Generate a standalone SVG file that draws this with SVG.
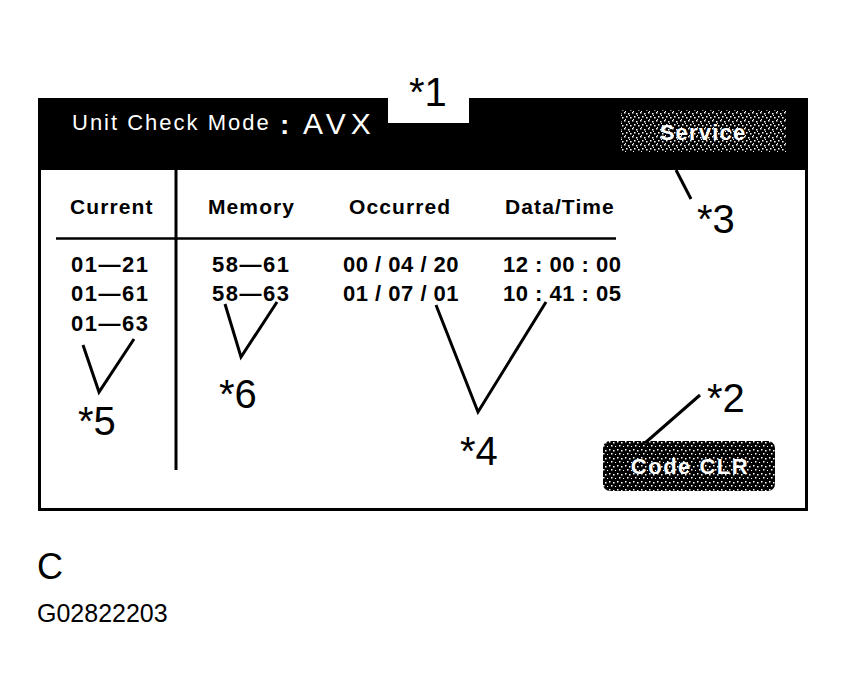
<svg xmlns="http://www.w3.org/2000/svg" width="846" height="698" viewBox="0 0 846 698">
<style>
.hd{font-family:"Liberation Sans",Arial,sans-serif;font-weight:bold;font-size:21px;letter-spacing:1.1px;fill:#000}
.dt{font-family:"Liberation Sans",Arial,sans-serif;font-weight:bold;font-size:22px;letter-spacing:0.5px;fill:#000}
.ds{font-family:"Liberation Sans",Arial,sans-serif;font-weight:bold;font-size:22px;letter-spacing:1.5px;fill:#000}
.call{font-family:"Liberation Sans",Arial,sans-serif;font-size:40px;fill:#000}
.ld{stroke:#000;stroke-width:3;fill:none}
.btn{font-family:"Liberation Sans",Arial,sans-serif;font-weight:bold;font-size:22px;fill:#fff}
</style>
<defs>
<pattern id="dotsL" width="8" height="8" patternUnits="userSpaceOnUse">
<rect width="8" height="8" fill="#000"/>
<rect x="0" y="0" width="1.5" height="1.5" fill="#fff"/>
<rect x="4" y="1" width="1.5" height="1.5" fill="#fff"/>
<rect x="2" y="4" width="1.5" height="1.5" fill="#fff"/>
<rect x="6" y="5" width="1.5" height="1.5" fill="#fff"/>
<rect x="5" y="3" width="1" height="1" fill="#fff"/>
<rect x="1" y="7" width="1" height="1" fill="#fff"/>
</pattern>
<pattern id="dotsD" width="8" height="8" patternUnits="userSpaceOnUse">
<rect width="8" height="8" fill="#000"/>
<rect x="1" y="1" width="1.5" height="1.5" fill="#fff"/>
<rect x="5" y="2" width="1.5" height="1.5" fill="#fff"/>
<rect x="3" y="5" width="1.5" height="1.5" fill="#fff"/>
<rect x="7" y="6" width="1" height="1" fill="#fff"/>
</pattern>
</defs>
<rect width="846" height="698" fill="#fff"/>
<g id="screen">
<rect x="39.5" y="99.5" width="767" height="410" fill="#fff" stroke="#000" stroke-width="3"/>
<rect x="38" y="98" width="770" height="72" fill="#000"/>
<rect x="388" y="98" width="81" height="25" fill="#fff"/>
<text x="72" y="130" font-family="'Liberation Sans',Arial,sans-serif" font-size="22" letter-spacing="2" fill="#fff">Unit Check Mode</text>
<text x="280" y="134" font-family="'Liberation Sans',Arial,sans-serif" font-size="28" font-weight="bold" fill="#fff">:</text>
<text x="303" y="134" font-family="'Liberation Sans',Arial,sans-serif" font-size="30" letter-spacing="5" fill="#fff">AVX</text>
<line x1="176" y1="170" x2="176" y2="470" stroke="#000" stroke-width="3"/>
<line x1="56" y1="238.5" x2="616" y2="238.5" stroke="#000" stroke-width="2.5"/>
</g>
<g id="service">
<rect x="621" y="110" width="165" height="42" fill="url(#dotsL)"/>
<text class="btn" x="703" y="140" text-anchor="middle" letter-spacing="1.2">Service</text>
</g>
<g id="codeclr">
<rect x="603" y="441" width="172" height="50" rx="7" fill="url(#dotsD)"/>
<text class="btn" x="690" y="474" text-anchor="middle" letter-spacing="1.5">Code CLR</text>
</g>
<g id="headers">
<text class="hd" x="70" y="214">Current</text>
<text class="hd" x="208" y="214">Memory</text>
<text class="hd" x="349" y="214">Occurred</text>
<text class="hd" x="505" y="214">Data/Time</text>
</g>
<g id="current">
<text class="ds" x="71" y="272">01—21</text>
<text class="ds" x="71" y="301">01—61</text>
<text class="ds" x="71" y="331">01—63</text>
</g>
<g id="memory">
<text class="ds" x="212" y="272">58—61</text>
<text class="ds" x="212" y="301">58—63</text>
</g>
<g id="occurred">
<text class="dt" x="343" y="272">00 / 04 / 20</text>
<text class="dt" x="343" y="301">01 / 07 / 01</text>
</g>
<g id="datatime">
<text class="dt" x="503" y="272">12 : 00 : 00</text>
<text class="dt" x="503" y="301">10 : 41 : 05</text>
</g>
<g id="connectors">
<polyline class="ld" points="83,345 99,392 134,339"/>
<polyline class="ld" points="225,304 241,357 277,302"/>
<polyline class="ld" points="436,305 478,412 546,302"/>
<line class="ld" x1="645" y1="443" x2="700" y2="395"/>
<line class="ld" x1="676" y1="170" x2="691" y2="199"/>
</g>
<g id="callouts">
<text class="call" x="409" y="106">*1</text>
<text class="call" x="707" y="412">*2</text>
<text class="call" x="697" y="233">*3</text>
<text class="call" x="460" y="465">*4</text>
<text class="call" x="78" y="435">*5</text>
<text class="call" x="219" y="408">*6</text>
</g>
<g id="caption">
<text x="37" y="579" font-family="'Liberation Sans',Arial,sans-serif" font-size="36" fill="#000">C</text>
<text x="37" y="622" font-family="'Liberation Sans',Arial,sans-serif" font-size="25" fill="#000">G02822203</text>
</g>
</svg>
